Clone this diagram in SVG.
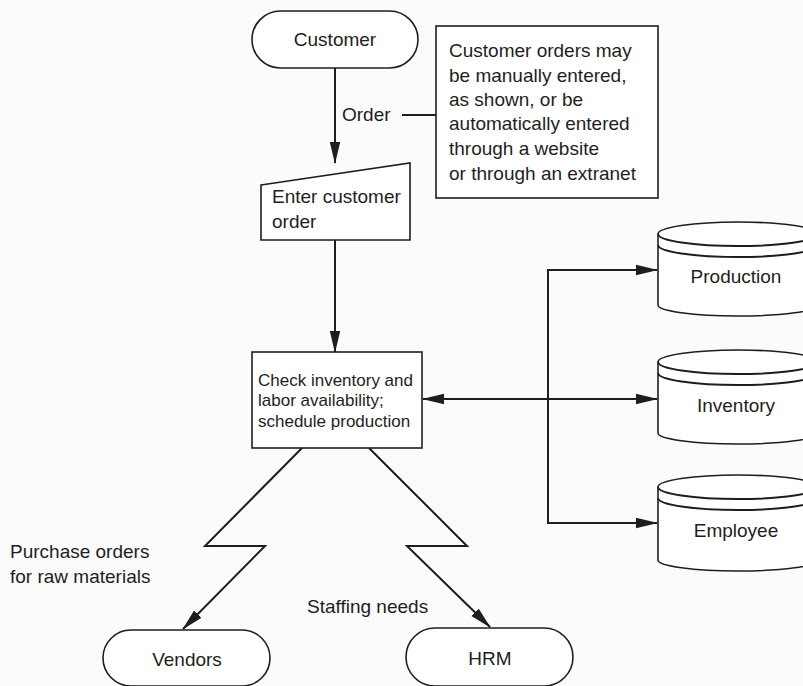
<svg xmlns="http://www.w3.org/2000/svg" width="803" height="686" viewBox="0 0 803 686">
  <style>
    .shape { fill: #ffffff; stroke: #1e1e1e; stroke-width: 1.6; }
    .line { fill: none; stroke: #1e1e1e; stroke-width: 2; }
    .txt { font-family: "Liberation Sans", Arial, sans-serif; font-size: 19px; fill: #1e1e1e; }
    .small { font-size: 17px; }
    .mid { text-anchor: middle; }
  </style>
  <defs>
    <marker id="arrow" markerUnits="userSpaceOnUse" markerWidth="22" markerHeight="12" viewBox="0 0 22 12" refX="21" refY="6" orient="auto">
      <path d="M0,0.8 L22,6 L0,11.2 Z" fill="#1e1e1e"/>
    </marker>
    <marker id="arrowStart" markerUnits="userSpaceOnUse" markerWidth="22" markerHeight="12" viewBox="0 0 22 12" refX="1" refY="6" orient="auto">
      <path d="M22,0.8 L0,6 L22,11.2 Z" fill="#1e1e1e"/>
    </marker>
  </defs>

  <rect width="803" height="686" fill="#fbfbfb"/>

  <!-- connectors -->
  <g id="connectors">
    <line class="line" x1="335" y1="68" x2="335" y2="163" marker-end="url(#arrow)"/>
    <line class="line" x1="335" y1="240" x2="335" y2="352" marker-end="url(#arrow)"/>
    <!-- annotation tie from Order label to note -->
    <line class="line" x1="402" y1="115" x2="436" y2="115"/>
    <!-- two-way link to the data stores -->
    <line class="line" x1="548" y1="399" x2="423" y2="399" marker-end="url(#arrow)"/>
    <line class="line" x1="548" y1="399" x2="657" y2="399" marker-end="url(#arrow)"/>
    <polyline class="line" points="657,270 548,270 548,523 657,523" marker-end="url(#arrow)"/>
    <line class="line" x1="548" y1="270" x2="657" y2="270" marker-end="url(#arrow)"/>
    <!-- communication links (lightning) -->
    <polyline class="line" points="302,448 205,546 265,546 183,629" marker-end="url(#arrow)"/>
    <polyline class="line" points="369,448 467,546 407,546 490,627" marker-end="url(#arrow)"/>
  </g>

  <g id="customer">
    <rect class="shape" x="252" y="11" width="166" height="57" rx="28.5" ry="28.5"/>
    <text class="txt mid" x="335" y="46">Customer</text>
  </g>

  <g id="order-label">
    <text class="txt" x="342" y="121">Order</text>
  </g>

  <g id="note">
    <rect class="shape" x="436" y="26" width="222" height="172" stroke-width="2"/>
    <text class="txt" x="449" y="57">Customer orders may</text>
    <text class="txt" x="449" y="82">be manually entered,</text>
    <text class="txt" x="449" y="106">as shown, or be</text>
    <text class="txt" x="449" y="130">automatically entered</text>
    <text class="txt" x="449" y="155">through a website</text>
    <text class="txt" x="449" y="180">or through an extranet</text>
  </g>

  <g id="enter-order">
    <polygon class="shape" points="261,185 410,163 410,240 261,240"/>
    <text class="txt" x="272" y="203" font-size="18">Enter customer</text>
    <text class="txt" x="272" y="228" font-size="18">order</text>
  </g>

  <g id="check">
    <rect class="shape" x="252" y="352" width="170" height="96"/>
    <text class="txt small" x="258" y="386">Check inventory and</text>
    <text class="txt small" x="258" y="406">labor availability;</text>
    <text class="txt small" x="258" y="427">schedule production</text>
  </g>

  <g id="production">
    <path class="shape" d="M658,234 A80,12 0 0 1 818,234 L818,305 A80,11 0 0 1 658,305 Z"/>
    <path class="line" stroke-width="1.6" d="M658,234 A80,12 0 0 0 818,234"/>
    <path class="line" stroke-width="1.6" d="M658,245 A80,12 0 0 0 818,245"/>
    <text class="txt mid" x="736" y="283">Production</text>
  </g>

  <g id="inventory">
    <path class="shape" d="M658,362 A80,12 0 0 1 818,362 L818,433 A80,11 0 0 1 658,433 Z"/>
    <path class="line" stroke-width="1.6" d="M658,362 A80,12 0 0 0 818,362"/>
    <path class="line" stroke-width="1.6" d="M658,373 A80,12 0 0 0 818,373"/>
    <text class="txt mid" x="736" y="412">Inventory</text>
  </g>

  <g id="employee">
    <path class="shape" d="M658,487 A80,12 0 0 1 818,487 L818,560 A80,11 0 0 1 658,560 Z"/>
    <path class="line" stroke-width="1.6" d="M658,487 A80,12 0 0 0 818,487"/>
    <path class="line" stroke-width="1.6" d="M658,498 A80,12 0 0 0 818,498"/>
    <text class="txt mid" x="736" y="537">Employee</text>
  </g>

  <g id="purchase-label">
    <text class="txt" x="10" y="558">Purchase orders</text>
    <text class="txt" x="10" y="583">for raw materials</text>
  </g>

  <g id="staffing-label">
    <text class="txt" x="307" y="613">Staffing needs</text>
  </g>

  <g id="vendors">
    <rect class="shape" x="103" y="630" width="167" height="56" rx="28" ry="28"/>
    <text class="txt mid" x="187" y="666">Vendors</text>
  </g>

  <g id="hrm">
    <rect class="shape" x="406" y="628" width="167" height="58" rx="29" ry="29"/>
    <text class="txt mid" x="490" y="665">HRM</text>
  </g>
</svg>
